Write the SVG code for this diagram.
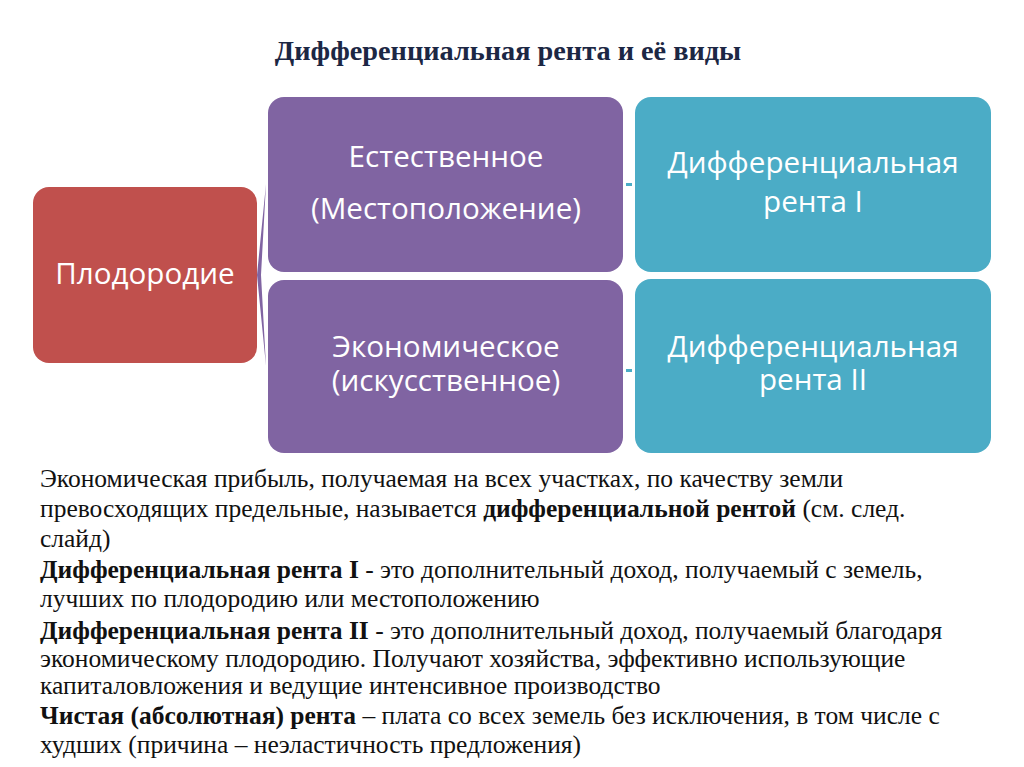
<svg xmlns="http://www.w3.org/2000/svg" width="1024" height="767" viewBox="0 0 1024 767">
<style>
.title{font-family:"Liberation Serif","Times New Roman",serif;font-weight:bold;font-size:28.3px;fill:#1c2744}
.box{font-family:"Open Sans","Liberation Sans",sans-serif;font-size:29.6px;fill:#ffffff;text-anchor:middle}
.body{font-family:"Liberation Serif","Times New Roman",serif;font-size:25.5px;fill:#111111}
.b{font-weight:bold}
</style>
<rect x="0" y="0" width="1024" height="767" fill="#ffffff"/>
<text class="title" x="508" y="60" text-anchor="middle">Дифференциальная рента и её виды</text>
<g id="connectors">
<polygon points="266,184 257,275 266,366 261,275" fill="#8064a2"/>
<rect x="626" y="183" width="6" height="3" fill="#4bacc6"/>
<rect x="626" y="369" width="6" height="3" fill="#4bacc6"/>
</g>
<g id="plodorodie">
<rect x="33" y="187" width="224" height="176" rx="16" fill="#c0504d"/>
<text class="box" x="145" y="284">Плодородие</text>
</g>
<g id="estestvennoe">
<rect x="268" y="97" width="355" height="175" rx="16" fill="#8064a2"/>
<text class="box" x="446" y="167">Естественное</text>
<text class="box" x="446" y="219">(Местоположение)</text>
</g>
<g id="ekonomicheskoe">
<rect x="268" y="280" width="355" height="173" rx="16" fill="#8064a2"/>
<text class="box" x="446" y="357">Экономическое</text>
<text class="box" x="446" y="391">(искусственное)</text>
</g>
<g id="renta1">
<rect x="635" y="97" width="356" height="175" rx="16" fill="#4bacc6"/>
<text class="box" x="813" y="173">Дифференциальная</text>
<text class="box" x="813" y="212">рента I</text>
</g>
<g id="renta2">
<rect x="635" y="279" width="356" height="174" rx="16" fill="#4bacc6"/>
<text class="box" x="813" y="357">Дифференциальная</text>
<text class="box" x="813" y="390">рента II</text>
</g>
<g id="text">
<text class="body" x="40" y="487">Экономическая прибыль, получаемая на всех участках, по качеству земли</text>
<text class="body" x="40" y="517">превосходящих предельные, называется <tspan class="b">дифференциальной рентой</tspan> (см. след.</text>
<text class="body" x="40" y="547">слайд)</text>
<text class="body" x="40" y="578"><tspan class="b">Дифференциальная рента I</tspan> - это дополнительный доход, получаемый с земель,</text>
<text class="body" x="40" y="607">лучших по плодородию или местоположению</text>
<text class="body" x="40" y="639"><tspan class="b">Дифференциальная рента II</tspan> - это дополнительный доход, получаемый благодаря</text>
<text class="body" x="40" y="667">экономическому плодородию. Получают хозяйства, эффективно использующие</text>
<text class="body" x="40" y="694">капиталовложения и ведущие интенсивное производство</text>
<text class="body" x="40" y="724"><tspan class="b">Чистая (абсолютная) рента</tspan> – плата со всех земель без исключения, в том числе с</text>
<text class="body" x="40" y="753">худших (причина – неэластичность предложения)</text>
</g>
</svg>
